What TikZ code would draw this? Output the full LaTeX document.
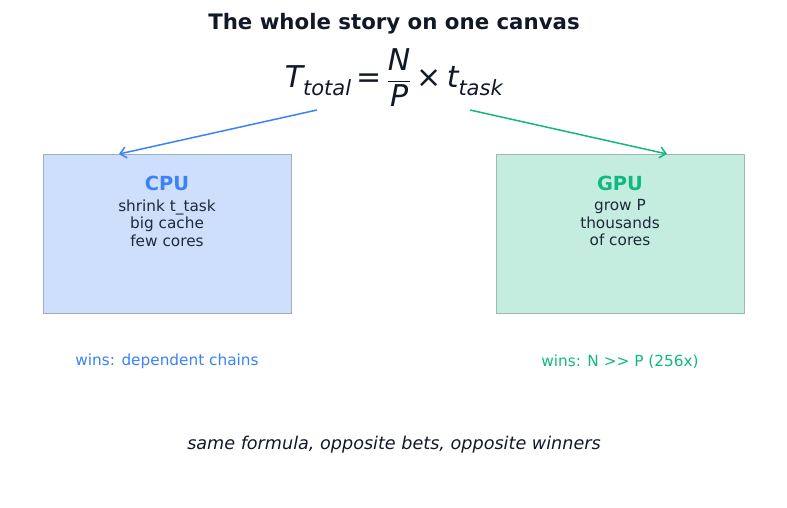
\documentclass[tikz,border=0pt]{standalone}
\usepackage{fontspec}
\usepackage{amsmath}
\setmainfont{DejaVu Sans}
\usetikzlibrary{arrows.meta}
\definecolor{cpublue}{HTML}{3B82F6}
\definecolor{gpugreen}{HTML}{10B981}
\definecolor{cpufill}{HTML}{CDDFFB}
\definecolor{gpufill}{HTML}{C5EDDF}
\definecolor{cpuedge}{HTML}{A0AEC4}
\definecolor{gpuedge}{HTML}{A0B8B0}
\definecolor{ink}{HTML}{111827}
\definecolor{body}{HTML}{1E293B}
\tikzset{
  panel/.style={draw, line width=1.4pt, minimum width=248pt, minimum height=159pt, inner sep=0pt, anchor=north west},
  head/.style={font=\fontsize{19.4}{22}\selectfont\bfseries},
  bodytxt/.style={font=\fontsize{15.3}{17.6}\selectfont, text=body, align=center, anchor=north},
  winstxt/.style={font=\fontsize{15.3}{18}\selectfont},
  link/.style={line width=1.5pt, -{Straight Barb[length=6pt,width=11pt,line width=1.5pt]}},
}
\begin{document}
\begin{tikzpicture}[x=1pt,y=-1pt]
\useasboundingbox[fill=white] (0,0) rectangle (787,508);
\node[font=\fontsize{21.3}{24}\selectfont\bfseries, text=ink] (title) at (394,24) {The whole story on one canvas};
\node[font=\fontsize{30}{34}\selectfont, text=ink] (formula) at (394,78)
  {$\text{\itshape T}_{\text{\itshape total}}\text{\,=\,}\dfrac{\text{\itshape N}}{\text{\itshape P}}\text{\,×\,}\text{\itshape t}_{\text{\itshape task}}$};
\node[panel, fill=cpufill, draw=cpuedge] (cpu) at (43,154) {};
\node[panel, fill=gpufill, draw=gpuedge] (gpu) at (496,154) {};
\node[head, text=cpublue] (cpulbl) at (167,183) {CPU};
\node[head, text=gpugreen] (gpulbl) at (620,183) {GPU};
\node[bodytxt] (cpubody) at (167,196) {shrink t\_task\\big cache\\few cores};
\node[bodytxt] (gpubody) at (620,196) {grow P\\thousands\\of cores};
\node[winstxt, text=cpublue] (cpuwins) at (167,361) {wins: dependent chains};
\node[winstxt, text=gpugreen] (gpuwins) at (620,362) {wins: N >{}> P (256x)};
\node[font=\fontsize{17.6}{21}\selectfont\itshape, text=ink] (footer) at (394,445) {same formula, opposite bets, opposite winners};
\coordinate (ls) at (317,110);
\coordinate (rs) at (470,110);
\coordinate (le) at ([xshift=76pt]cpu.north west);
\coordinate (re) at ([xshift=171pt]gpu.north west);
\draw[link, cpublue] (ls) -- (le);
\draw[link, gpugreen] (rs) -- (re);
\end{tikzpicture}
\end{document}
